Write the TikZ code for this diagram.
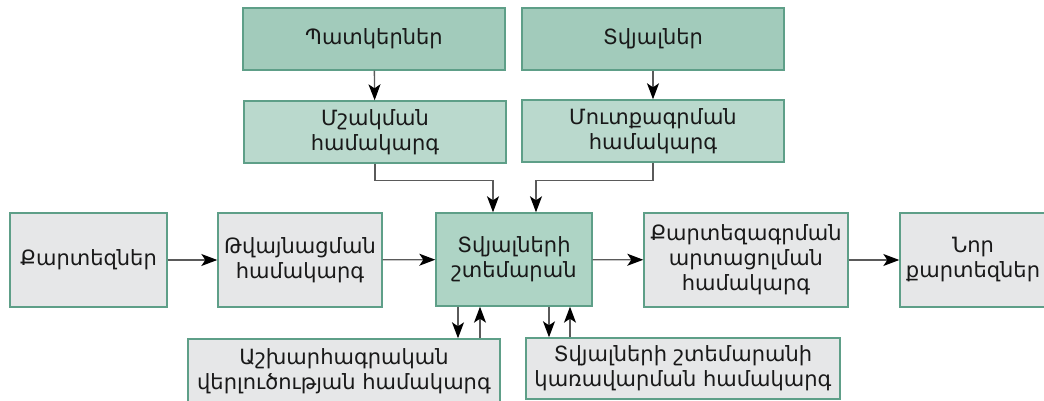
\documentclass[tikz,border=0pt]{standalone}
\usepackage{fontspec}
\setmainfont{DejaVu Sans}
\usetikzlibrary{arrows.meta,positioning}
\definecolor{darkgreen}{HTML}{A2CBBB}
\definecolor{lightgreen}{HTML}{BAD9CD}
\definecolor{midgreen}{HTML}{AED4C5}
\definecolor{boxgray}{HTML}{E6E7E8}
\definecolor{edgegreen}{HTML}{5E9F88}
\definecolor{linegray}{HTML}{5A5A5A}
\begin{document}
\begin{tikzpicture}[x=1pt,y=1pt,
	box/.style={draw=edgegreen,line width=1.4pt,align=center,inner sep=0pt,
		text=black!90,font=\fontsize{21}{25}\selectfont},
	topbox/.style={box,fill=darkgreen,minimum width=262pt,minimum height=62pt},
	subbox/.style={box,fill=lightgreen,minimum width=262pt,minimum height=62pt},
	graybox/.style={box,fill=boxgray,minimum height=94pt},
	arr/.style={draw=linegray,line width=1.3pt,-{Stealth[length=16pt,width=12pt,inset=4pt,fill=black,color=black]}}]
		\useasboundingbox (0,0) rectangle (1044,401);
		% top row
		\node[topbox](pat) at (374,362) {Պատկերներ};
		\node[topbox](tvy) at (653,362) {Տվյալներ};
		\node[subbox](msh) at (375,269) {Մշակման\\համակարգ};
		\node[subbox](mut) at (653,270) {Մուտքագրման\\համակարգ};
		% middle row
		\node[graybox,minimum width=157pt](kar) at (88.5,141) {Քարտեզներ};
		\node[graybox,minimum width=164pt](tvn) at (300,141) {Թվայնացման\\համակարգ};
		\node[box,fill=midgreen,minimum width=156pt,minimum height=93pt](db) at (514,141.5) {Տվյալների\\շտեմարան};
		\node[graybox,minimum width=204pt](kmap) at (746,141) {Քարտեզագրման\\արտացոլման\\համակարգ};
		\node[graybox,minimum width=146pt](nor) at (973,141) {Նոր\\քարտեզներ};
		% bottom row
		\node[box,fill=boxgray,minimum width=312pt,minimum height=64pt](geo) at (344,30) {Աշխարհագրական\\վերլուծության համակարգ};
		\node[box,fill=boxgray,minimum width=314pt,minimum height=61pt](dbms) at (683,32.5) {Տվյալների շտեմարանի\\կառավարման համակարգ};
		% connectors
		\draw[arr] (pat) -- (msh);
		\draw[arr] (tvy) -- (mut);
		\draw[arr] (msh.south) -- ++(0,-17) -| ([xshift=-21pt]db.north);
		\draw[arr] (mut.south) -- ++(0,-18) -| ([xshift=22pt]db.north);
		\draw[arr] (kar) -- (tvn);
		\draw[arr] (tvn) -- (db);
		\draw[arr] (db) -- (kmap);
		\draw[arr] (kmap) -- (nor);
		\draw[arr] ([xshift=-56pt]db.south) -- ([xshift=-56pt]db.south |- geo.north);
		\draw[arr] ([xshift=-34pt]db.south |- geo.north) -- ([xshift=-34pt]db.south);
		\draw[arr] ([xshift=35pt]db.south) -- ([xshift=35pt]db.south |- dbms.north);
		\draw[arr] ([xshift=56pt]db.south |- dbms.north) -- ([xshift=56pt]db.south);
\end{tikzpicture}
\end{document}
